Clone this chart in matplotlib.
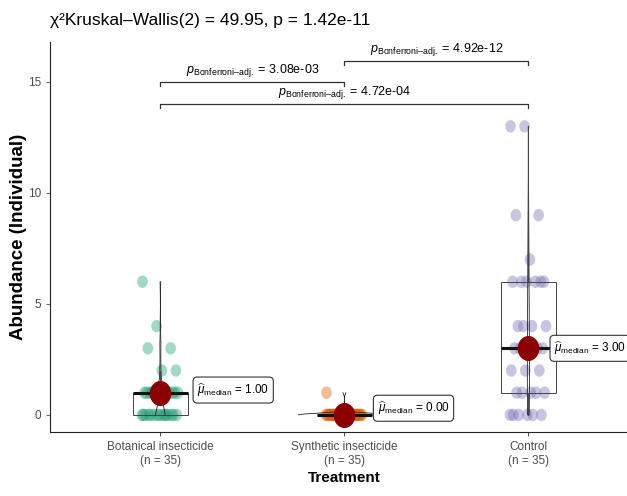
import numpy as np
import matplotlib
matplotlib.use("Agg")
import matplotlib.pyplot as plt
from matplotlib.path import Path

plt.rcParams['font.family'] = ['Liberation Sans', 'DejaVu Sans']
plt.rcParams['mathtext.fontset'] = 'custom'
plt.rcParams['mathtext.rm'] = 'Liberation Sans'
plt.rcParams['mathtext.it'] = 'Liberation Sans:italic'

# data (value -> count)
groups = ['Botanical insecticide', 'Synthetic insecticide', 'Control']
botanical_vals = [0, 1, 2, 3, 4, 6]
botanical_cnts = [15, 14, 2, 2, 1, 1]
synthetic_vals = [0, 1]
synthetic_cnts = [34, 1]
control_vals = [0, 1, 2, 3, 4, 6, 7, 9, 13]
control_cnts = [6, 5, 3, 6, 4, 6, 1, 2, 2]
colors = ['#1B9E77', '#D95F02', '#7570B3']
medians = [1.00, 0.00, 3.00]

title = 'χ²Kruskal–Wallis(2) = 49.95, p = 1.42e-11'
pairs = [(1, 2), (2, 3), (1, 3)]
pair_p = ['3.08e-03', '4.92e-12', '4.72e-04']
pair_y = [15.0, 15.95, 14.0]

data = [np.repeat(botanical_vals, botanical_cnts),
        np.repeat(synthetic_vals, synthetic_cnts),
        np.repeat(control_vals, control_cnts)]


def bw_nrd0(x):
    hi = np.std(x, ddof=1)
    q75, q25 = np.percentile(x, [75, 25])
    lo = min(hi, (q75 - q25) / 1.34)
    if lo == 0:
        lo = hi
    return 0.9 * lo * len(x) ** (-0.2)


# slightly tall ellipse marker (the reference looks stretched vertically)
t = np.linspace(0, 2 * np.pi, 60)
ellipse = Path(np.column_stack([np.cos(t), 1.17 * np.sin(t)]), closed=True)

fig = plt.figure(figsize=(6.27, 4.96), dpi=100)
ax = fig.add_axes([50 / 627, 1 - 432 / 496, 588.8 / 627, (432 - 42) / 496])

# violins (area scaled, trimmed)
dens = []
for x in data:
    bw = bw_nrd0(x)
    yy = np.linspace(x.min(), x.max(), 512)
    d = np.exp(-0.5 * ((yy[:, None] - x[None, :]) / bw) ** 2).sum(axis=1)
    d = d / (len(x) * bw * np.sqrt(2 * np.pi))
    dens.append((yy, d))
dmax = max(d.max() for _, d in dens)
for i, (yy, d) in enumerate(dens):
    w = d / dmax * 0.25
    ax.fill_betweenx(yy, i + 1 - w, i + 1 + w, facecolor='white', alpha=0.2)
    ax.plot(i + 1 - w, yy, color='#222222', lw=0.6, zorder=3)
    ax.plot(i + 1 + w, yy, color='#222222', lw=0.6, zorder=3)

# jittered points
for i, x in enumerate(data):
    off = ((np.arange(len(x)) * 0.618034) % 1 - 0.5) * 0.2
    ax.scatter(i + 1 + off, x, s=80, color=colors[i], alpha=0.4, marker=ellipse,
               edgecolors='none', zorder=2)

ax.boxplot(data, positions=[1, 2, 3], widths=0.3, showfliers=False,
           patch_artist=True, manage_ticks=False,
           boxprops=dict(facecolor='none', edgecolor='#444444', lw=0.7),
           whiskerprops=dict(color='#444444', lw=0.7),
           capprops=dict(lw=0),
           medianprops=dict(color='#111111', lw=2.2), zorder=4)

ax.plot([1, 2, 3], medians, marker=ellipse, ls='none', color='#8B0000',
        markersize=17, zorder=6)

label_xy = [(1.2, 1.12), (2.18, 0.3), (3.14, 3.0)]
for (lx, ly), m in zip(label_xy, medians):
    ax.text(lx, ly, r'$\widehat{\mu}_{\mathrm{median}}$ = %.2f' % m, fontsize=8.5,
            ha='left', va='center', zorder=7,
            bbox=dict(boxstyle='round,pad=0.35', fc='white', ec='#333333', lw=0.8))

# pairwise brackets
for (a, b), p, y in zip(pairs, pair_p, pair_y):
    ax.plot([a, a, b, b], [y - 0.18, y, y, y - 0.18], color='#333333', lw=0.9)
    ax.text((a + b) / 2, y + 0.12, r'$\mathit{p}_{\mathrm{Bonferroni–adj.}}$ = ' + p,
            ha='center', va='bottom', fontsize=9)

ax.set_xlim(0.4, 3.6)
ax.set_ylim(-0.77, 16.8)
ax.set_yticks([0, 5, 10, 15])
ax.set_xticks([1, 2, 3])
ax.set_xticklabels([g + '\n(n = %d)' % len(x) for g, x in zip(groups, data)])
ax.tick_params(colors='#4D4D4D', labelsize=8.5, length=3, width=0.6)
ax.tick_params(axis='x', colors='#333333', labelcolor='#4D4D4D')
for s in ['top', 'right']:
    ax.spines[s].set_visible(False)
for s in ['left', 'bottom']:
    ax.spines[s].set_color('#222222')
    ax.spines[s].set_linewidth(0.8)

ax.set_xlabel('Treatment', fontsize=11, fontweight='bold', labelpad=3)
ax.set_ylabel('Abundance (Individual)', fontsize=13.5, fontweight='bold')
ax.yaxis.set_label_coords(-23 / 588.8, 0.5)
fig.text(50 / 627, 1 - 20 / 496, title, fontsize=12.5, ha='left', va='center')

fig.savefig('out.png', dpi=100)
